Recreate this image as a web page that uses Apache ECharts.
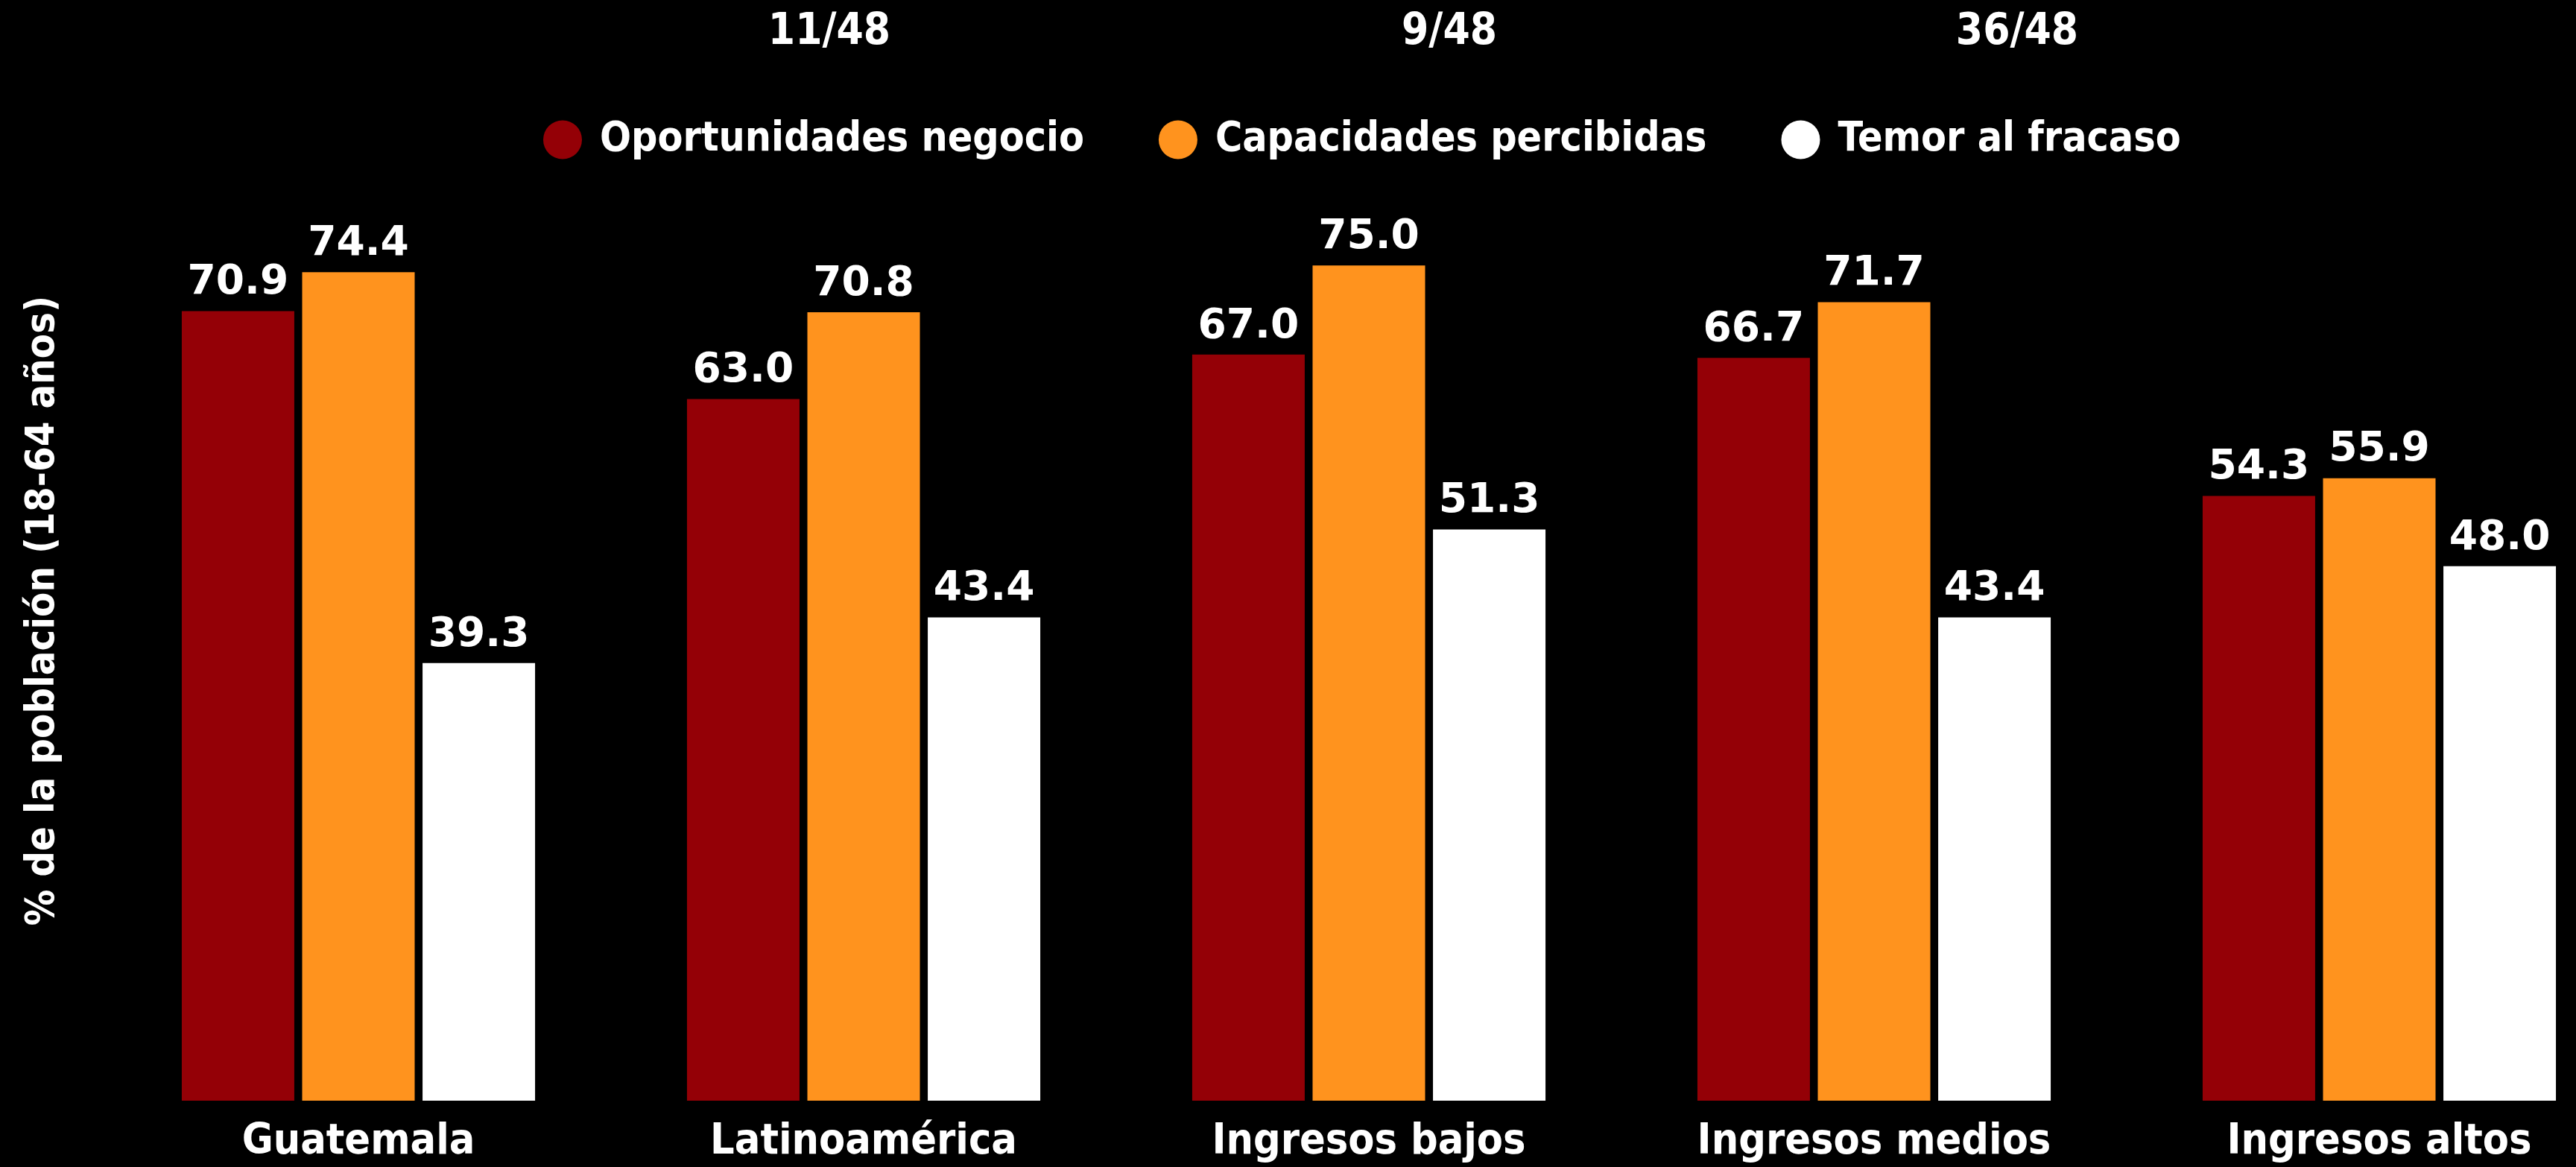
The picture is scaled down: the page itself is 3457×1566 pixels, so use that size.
<!DOCTYPE html>
<html>
<head>
<meta charset="utf-8">
<script src="https://cdn.jsdelivr.net/npm/echarts@6/dist/echarts.min.js"></script>
<style>
    html, body {
        margin: 0;
        padding: 0;
        background: #000;
    }
    #chart {
        width: 3457px;
        height: 1566px;
    }
</style>
</head>
<body>
<div id="chart"></div>
<script>
const categories = ['Guatemala', 'Latinoamérica', 'Ingresos bajos', 'Ingresos medios', 'Ingresos altos'];
const oportunidades = [70.9, 63.0, 67.0, 66.7, 54.3];
const capacidades = [74.4, 70.8, 75.0, 71.7, 55.9];
const temor = [39.3, 43.4, 51.3, 43.4, 48.0];
const rankLabels = ['11/48', '9/48', '36/48'];

const condensed = "'DejaVu Sans Condensed', 'Liberation Sans Narrow', sans-serif";
const wide = "'DejaVu Sans', sans-serif";

const chart = echarts.init(document.getElementById('chart'));

// etiquetas de valor sobre cada barra
const valueLabel = {
    show: true,
    position: 'top',
    distance: 10,
    color: '#fff',
    fontFamily: wide,
    fontWeight: 'bold',
    fontSize: 55,
    formatter: p => p.value.toFixed(1)
};

function makeSeries(name, data, color) {
    return {
        name: name,
        type: 'bar',
        data: data,
        barWidth: 151,
        barGap: '7%',
        itemStyle: { color: color },
        label: valueLabel
    };
}

// posiciones de los textos de ranking arriba
const rankX = [1113, 1945, 2707];

const option = {
    backgroundColor: '#000',
    animation: false,
    grid: {
        left: 142,
        width: 3390, // el último grupo se sale un poco del lienzo
        top: 162,
        bottom: 89,
        containLabel: false,
        outerBoundsMode: 'none'
    },
    legend: {
        left: 724,
        top: 155,
        icon: 'circle',
        itemWidth: 52,
        itemHeight: 52,
        itemGap: 100,
        textStyle: {
            color: '#fff',
            fontFamily: condensed,
            fontWeight: 'bold',
            fontSize: 55,
            padding: [0, 0, 0, 19]
        },
        data: ['Oportunidades negocio', 'Capacidades percibidas', 'Temor al fracaso']
    },
    xAxis: {
        type: 'category',
        data: categories,
        axisLine: { show: false },
        axisTick: { show: false },
        axisLabel: {
            color: '#fff',
            fontFamily: condensed,
            fontWeight: 'bold',
            fontSize: 57,
            margin: 28
        }
    },
    yAxis: {
        type: 'value',
        min: 0,
        max: 88,
        name: '% de la población (18-64 años)',
        nameLocation: 'middle',
        nameGap: 57,
        nameTextStyle: {
            color: '#fff',
            fontFamily: condensed,
            fontWeight: 'bold',
            fontSize: 54
        },
        axisLine: { show: false },
        axisTick: { show: false },
        axisLabel: { show: false },
        splitLine: { show: false }
    },
    graphic: rankLabels.map((t, i) => ({
        type: 'text',
        x: rankX[i],
        y: 44,
        style: {
            text: t,
            fill: '#fff',
            font: 'bold 58px ' + condensed,
            textAlign: 'center',
            textVerticalAlign: 'middle'
        }
    })),
    series: [
        makeSeries('Oportunidades negocio', oportunidades, '#940006'),
        makeSeries('Capacidades percibidas', capacidades, '#FF931E'),
        makeSeries('Temor al fracaso', temor, '#FFFFFF')
    ]
};

chart.setOption(option);
</script>
</body>
</html>
